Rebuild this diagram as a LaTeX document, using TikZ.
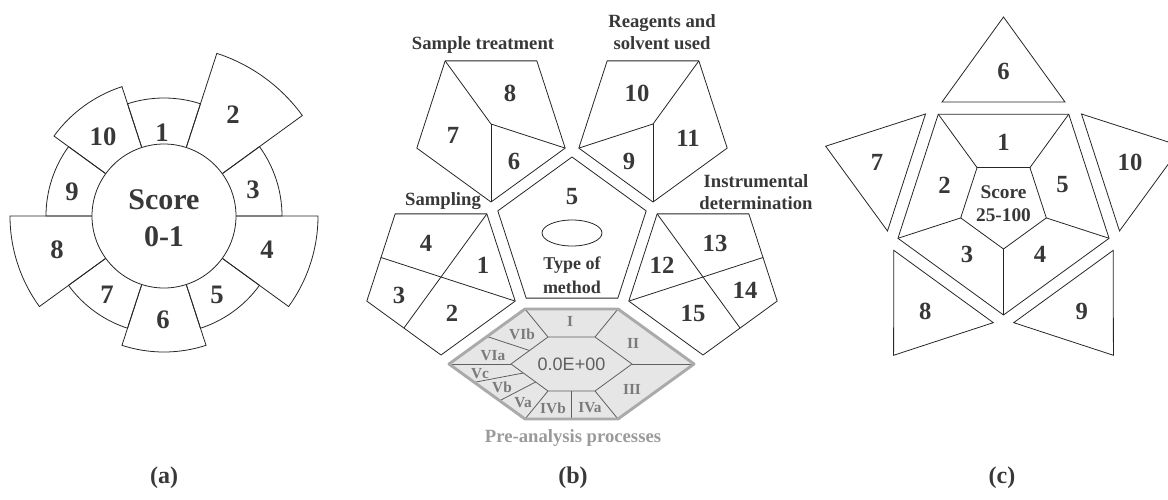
\documentclass[tikz,border=0pt]{standalone}
\usepackage{fontspec}
\setmainfont{Liberation Serif}
\newfontfamily\arialfont{Liberation Sans}
\usetikzlibrary{calc}

\definecolor{txtgray}{HTML}{383838}
\definecolor{hexfill}{HTML}{E6E6E6}
\definecolor{hexedge}{HTML}{AAAAAA}
\definecolor{hexline}{HTML}{606060}
\definecolor{romgray}{HTML}{7A7A7A}
\definecolor{pregray}{HTML}{9A9A9A}

\tikzset{
  ln/.style={line width=0.6pt, draw=black!85},
  numa/.style={text=txtgray, font=\bfseries\fontsize{20}{20}\selectfont, inner sep=0pt},
  num/.style={text=txtgray, font=\bfseries\fontsize{18.5}{18.5}\selectfont, inner sep=0pt},
  ttl/.style={text=txtgray, font=\bfseries\fontsize{14}{16.5}\selectfont, align=center, inner sep=0pt},
  rom/.style={text=romgray, font=\bfseries\fontsize{11.5}{11.5}\selectfont, inner sep=0pt},
  figlabel/.style={text=txtgray, font=\bfseries\fontsize{18}{18}\selectfont, inner sep=0pt},
}

\begin{document}
\begin{tikzpicture}[x=0.75pt,y=0.75pt,yscale=-1,xscale=1]
\useasboundingbox (0,0) rectangle (1168,500);

% --- (a) ring of ten sectors ---
\coordinate (ca) at (164,216);
\foreach \n/\r in {1/118,2/171,3/118,4/154,5/118,6/136,7/118,8/154,9/118,10/136}{
  \pgfmathsetmacro{\sa}{36*\n-144}
  \pgfmathsetmacro{\sb}{36*\n-108}
  \draw [ln] ([shift={(\sa:72)}]ca) -- ([shift={(\sa:\r)}]ca)
    arc [start angle=\sa, end angle=\sb, radius=\r] -- ([shift={(\sb:72)}]ca);
}
\draw [ln, fill=white] (ca) circle [radius=72];
\node [text=txtgray, font=\bfseries\fontsize{22.5}{27.5}\selectfont, align=center, inner sep=0pt] (sca) at (164,218) {Score\\0-1};

\node [numa] (a1) at (162,133) {1};
\node [numa] (a2) at (233,115) {2};
\node [numa] (a3) at (253,190) {3};
\node [numa] (a4) at (267,250) {4};
\node [numa] (a5) at (217,295) {5};
\node [numa] (a6) at (163,320) {6};
\node [numa] (a7) at (107,295) {7};
\node [numa] (a8) at (57,250) {8};
\node [numa] (a9) at (72,192) {9};
\node [numa] (a10) at (103,137) {10};

% --- (b) five pentagons ---
\coordinate (psam) at (441,277);
\coordinate (ptrt) at (491,124);
\coordinate (prea) at (653,124);
\coordinate (pins) at (703,277);
\coordinate (pmet) at (572,235);
\foreach \p in {psam,ptrt,prea,pins}
  \draw [ln] ([shift={(90:78)}]\p) -- ([shift={(162:78)}]\p) -- ([shift={(234:78)}]\p)
    -- ([shift={(306:78)}]\p) -- ([shift={(18:78)}]\p) -- cycle;
\draw [ln] ([shift={(270:78)}]pmet) -- ([shift={(342:78)}]pmet) -- ([shift={(54:78)}]pmet)
  -- ([shift={(126:78)}]pmet) -- ([shift={(198:78)}]pmet) -- cycle;
\draw [ln] (572,233) ellipse [x radius=30, y radius=13];

% divisions
\draw [ln] ([shift={(234:78)}]ptrt) -- (ptrt) -- ([shift={(18:78)}]ptrt);
\draw [ln] (ptrt) -- ([shift={(90:78)}]ptrt);
\draw [ln] ([shift={(306:78)}]prea) -- (prea) -- ([shift={(162:78)}]prea);
\draw [ln] (prea) -- ([shift={(90:78)}]prea);
\draw [ln] ([shift={(18:78)}]psam) -- ([shift={(198:63.1)}]psam);
\draw [ln] ([shift={(306:78)}]psam) -- ([shift={(126:63.1)}]psam);
\draw [ln] ([shift={(162:78)}]pins) -- ([shift={(342:63.1)}]pins);
\draw [ln] ([shift={(234:78)}]pins) -- ([shift={(54:63.1)}]pins);

\node [ttl] (tsam) at (443,201) {Sampling};
\node [ttl] (ttrt) at (483,45) {Sample treatment};
\node [ttl] (trea) at (662,32) {Reagents and\\solvent used};
\node [ttl] (tins) at (756,192) {Instrumental\\determination};

\node [num] (b1) at (483,265) {1};
\node [num] (b2) at (452,313) {2};
\node [num] (b3) at (399,295) {3};
\node [num] (b4) at (426,243) {4};
\node [num] (b5) at (572,197) {5};
\node [num] (b6) at (514,161) {6};
\node [num] (b7) at (453,135) {7};
\node [num] (b8) at (510,93) {8};
\node [num] (b9) at (629,161) {9};
\node [num] (b10) at (637,93) {10};
\node [num] (b11) at (688,138) {11};
\node [num] (b12) at (662,265) {12};
\node [num] (b13) at (715,243) {13};
\node [num] (b14) at (745,290) {14};
\node [num] (b15) at (693,313) {15};
\node [text=txtgray, font=\bfseries\fontsize{13.5}{18}\selectfont, align=center, inner sep=0pt] (tmet) at (572,275) {Type of\\method};

% --- hexagon of pre-analysis ---
\coordinate (o1) at (525,309);
\coordinate (o2) at (618,309);
\coordinate (o3) at (694,364);
\coordinate (o4) at (618,419);
\coordinate (o5) at (525,419);
\coordinate (o6) at (449,364);
\coordinate (i1) at (548,337);
\coordinate (i2) at (595,337);
\coordinate (i3) at (632,364);
\coordinate (i4) at (595,391);
\coordinate (i5) at (548,391);
\coordinate (i6) at (511,364);
\fill [hexfill] (o1) -- (o2) -- (o3) -- (o4) -- (o5) -- (o6) -- cycle;
\draw [line width=0.6pt, hexline] (i1) -- (i2) -- (i3) -- (i4) -- (i5) -- (i6) -- cycle;
\foreach \k in {1,...,6}
  \draw [line width=0.6pt, hexline] (i\k) -- (o\k);
\draw [line width=0.6pt, hexline] ($(i4)!.5!(i5)$) -- ($(o4)!.5!(o5)$);
\draw [line width=0.6pt, hexline] ($(i6)!.5!(i1)$) -- ($(o6)!.5!(o1)$);
\draw [line width=0.6pt, hexline] ($(i6)!1/3!(i5)$) -- ($(o6)!1/3!(o5)$);
\draw [line width=0.6pt, hexline] ($(i6)!2/3!(i5)$) -- ($(o6)!2/3!(o5)$);
\draw [line width=2.2pt, hexedge, line join=round] (o1) -- (o2) -- (o3) -- (o4) -- (o5) -- (o6) -- cycle;

\node [text=hexline, font=\arialfont\fontsize{13.5}{13.5}\selectfont, inner sep=0pt] (score) at (571.5,364) {0.0E+00};
\node [rom] (rI) at (570,321) {I};
\node [rom] (rII) at (633,343) {II};
\node [rom] (rIII) at (632,389) {III};
\node [rom] (rIVa) at (590,408) {IVa};
\node [rom] (rIVb) at (553,408) {IVb};
\node [rom] (rVa) at (523,403) {Va};
\node [rom] (rVb) at (502,387) {Vb};
\node [rom] (rVc) at (480,374) {Vc};
\node [rom] (rVIa) at (493,356) {VIa};
\node [rom] (rVIb) at (522,334) {VIb};
\node [text=pregray, font=\bfseries\fontsize{14}{14}\selectfont, inner sep=0pt] (tpre) at (573,438) {Pre-analysis processes};

% --- (c) pentagon with triangles ---
\coordinate (cc) at (1003.5,204);
\draw [ln] ([shift={(90:111)}]cc) -- ([shift={(162:111)}]cc) -- ([shift={(234:111)}]cc)
  -- ([shift={(306:111)}]cc) -- ([shift={(18:111)}]cc) -- cycle;
\draw [ln] ([shift={(90:45)}]cc) -- ([shift={(162:45)}]cc) -- ([shift={(234:45)}]cc)
  -- ([shift={(306:45)}]cc) -- ([shift={(18:45)}]cc) -- cycle;
\foreach \a in {90,162,234,306,18}
  \draw [ln] ([shift={(\a:45)}]cc) -- ([shift={(\a:111)}]cc);
\foreach \n/\a in {6/270,10/342,9/54,8/126,7/198}{
  \pgfmathsetmacro{\ta}{\a-31.09}
  \pgfmathsetmacro{\tb}{\a+31.09}
  \draw [ln] ([shift={(\ta:119.1)}]cc) -- ([shift={(\a:187)}]cc) -- ([shift={(\tb:119.1)}]cc) -- cycle;
  \node [num] (c\n) at ([shift={(\a:133)}]cc) {\n};
}
\foreach \n/\a in {1/270,2/198,3/126,4/54,5/342}
  \node [num] (c\n) at ([shift={(\a:62)}]cc) {\n};
\node [text=txtgray, font=\bfseries\fontsize{14.5}{17}\selectfont, align=center, inner sep=0pt] (scc) at (1003.5,203.5) {Score\\25-100};

% --- captions ---
\node [figlabel] (la) at (164,478) {(a)};
\node [figlabel] (lb) at (573,478) {(b)};
\node [figlabel] (lc) at (1002,478) {(c)};

\end{tikzpicture}
\end{document}
